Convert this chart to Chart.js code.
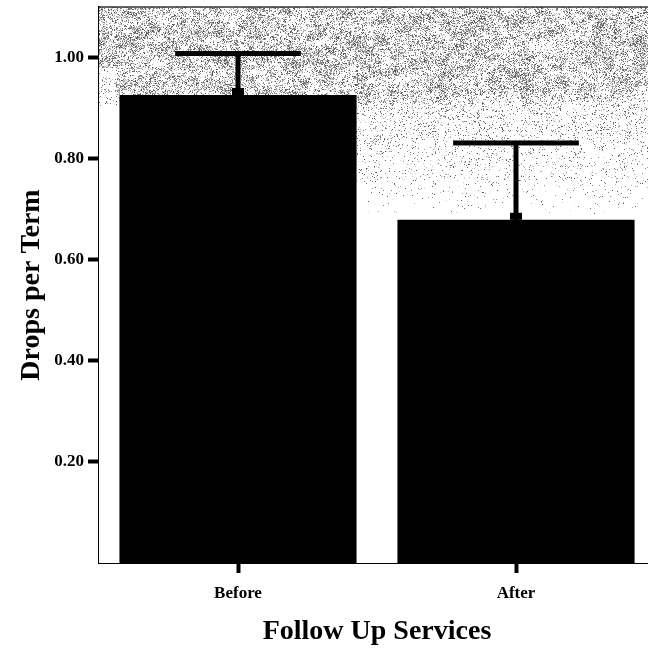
<!DOCTYPE html>
<html>
<head>
<meta charset="utf-8">
<script src="https://cdn.jsdelivr.net/npm/chart.js@4.4.1/dist/chart.umd.min.js"></script>
<style>
html, body { margin: 0; padding: 0; background: #fff; overflow: hidden; }
#wrap { width: 670px; height: 654px; }
</style>
</head>
<body>
<div id="wrap"><canvas id="chart" width="670" height="654"></canvas></div>
<script>
'use strict';

/* DATA */
const categories = ['Before', 'After'];
const meanDrops = [0.926, 0.679];
const upperLimit = [1.008, 0.831];
const yTicks = [0.2, 0.4, 0.6, 0.8, 1.0];

const SERIF = "'Liberation Serif', 'Times New Roman', serif";

/* scan texture helpers (deterministic hash, not data) */
function hash(x, y) {
  const n = Math.sin(x * 12.9898 + y * 78.233) * 43758.5453;
  return n - Math.floor(n);
}
function smooth(x, y) {
  const xi = Math.floor(x), yi = Math.floor(y), fx = x - xi, fy = y - yi;
  const a = hash(xi, yi), b = hash(xi + 1, yi), c = hash(xi, yi + 1), d = hash(xi + 1, yi + 1);
  return (a * (1 - fx) + b * fx) * (1 - fy) + (c * (1 - fx) + d * fx) * fy;
}
function density(x, t) {
  if (x < 115 && t > 60) return t < 100 ? 0.1 : 0;
  if (t < 85) return 0.42;
  if (t < 100) return 0.42 - (t - 85) * 0.018;
  if (x > 350 && t < 210) return 0.16 * (1 - (t - 100) / 110);
  return 0;
}

const speckle = {
  id: 'speckle',
  beforeDatasetsDraw(chart) {
    const a = chart.chartArea;
    const w = Math.ceil(a.right - a.left), h = Math.ceil(a.bottom - a.top);
    const off = document.createElement('canvas');
    off.width = w; off.height = h;
    const octx = off.getContext('2d');
    const img = octx.createImageData(w, h);
    for (let t = 0; t < h; t++) {
      for (let i = 0; i < w; i++) {
        const x = a.left + i;
        const d = density(x, t);
        let v = 255;
        if (d > 0 && hash(x, t) < d * (0.2 + 1.6 * smooth(x / 7, t / 5))) {
          v = 80 + 150 * hash(t + 3.1, x + 7.7);
        }
        const k = (t * w + i) * 4;
        img.data[k] = img.data[k + 1] = img.data[k + 2] = v;
        img.data[k + 3] = 255;
      }
    }
    octx.putImageData(img, 0, 0);
    chart.ctx.drawImage(off, a.left, a.top);
  }
};

const errorBars = {
  id: 'errorBars',
  afterDatasetsDraw(chart) {
    const ctx = chart.ctx, y = chart.scales.y;
    ctx.save();
    ctx.fillStyle = '#000';
    chart.getDatasetMeta(0).data.forEach((bar, i) => {
      const top = y.getPixelForValue(upperLimit[i]);
      const half = bar.width * 0.265;
      ctx.fillRect(bar.x - 2.5, top, 5, bar.y - top);
      ctx.fillRect(bar.x - half, top - 2.5, half * 2, 5);
      ctx.fillRect(bar.x - 6, bar.y - 7, 12, 7);
    });
    ctx.restore();
  }
};

const frame = {
  id: 'frame',
  afterDraw(chart) {
    const a = chart.chartArea, ctx = chart.ctx;
    ctx.save();
    ctx.strokeStyle = '#333';
    ctx.lineWidth = 1.5;
    ctx.beginPath();
    ctx.moveTo(a.left, a.top);
    ctx.lineTo(a.right, a.top);
    ctx.lineTo(a.right, a.bottom);
    ctx.stroke();
    ctx.restore();
  }
};

new Chart(document.getElementById('chart'), {
  type: 'bar',
  data: {
    labels: categories,
    datasets: [{
      data: meanDrops,
      backgroundColor: '#000',
      borderWidth: 0,
      barPercentage: 0.853,
      categoryPercentage: 1
    }]
  },
  options: {
    responsive: false,
    animation: false,
    layout: { padding: { top: 7, left: 15, right: 15, bottom: 5 } },
    plugins: { legend: { display: false }, tooltip: { enabled: false } },
    scales: {
      x: {
        grid: { display: true, drawOnChartArea: false, offset: false, tickLength: 10, tickWidth: 4, tickColor: '#000' },
        border: { display: true, color: '#000', width: 2 },
        ticks: { color: '#000', padding: 10, font: { family: SERIF, size: 17, weight: 'bold' } },
        title: {
          display: true, text: 'Follow Up Services', color: '#000',
          padding: { top: 2, bottom: 0 },
          font: { family: SERIF, size: 28, weight: 'bold' }
        }
      },
      y: {
        min: 0,
        max: 1.1,
        afterBuildTicks: s => { s.ticks = yTicks.map(v => ({ value: v })); },
        afterFit: s => { s.width = 84; s.paddingTop = 0; s.paddingBottom = 0; },
        grid: { drawOnChartArea: false, tickLength: 11, tickWidth: 4, tickColor: '#000' },
        border: { color: '#000', width: 2 },
        ticks: { color: '#000', padding: 4, callback: v => Number(v).toFixed(2), font: { family: SERIF, size: 17, weight: 'bold' } },
        title: {
          display: true, text: 'Drops per Term', color: '#000',
          padding: 0,
          font: { family: SERIF, size: 28, weight: 'bold' }
        }
      }
    }
  },
  plugins: [speckle, errorBars, frame]
});
</script>
</body>
</html>
